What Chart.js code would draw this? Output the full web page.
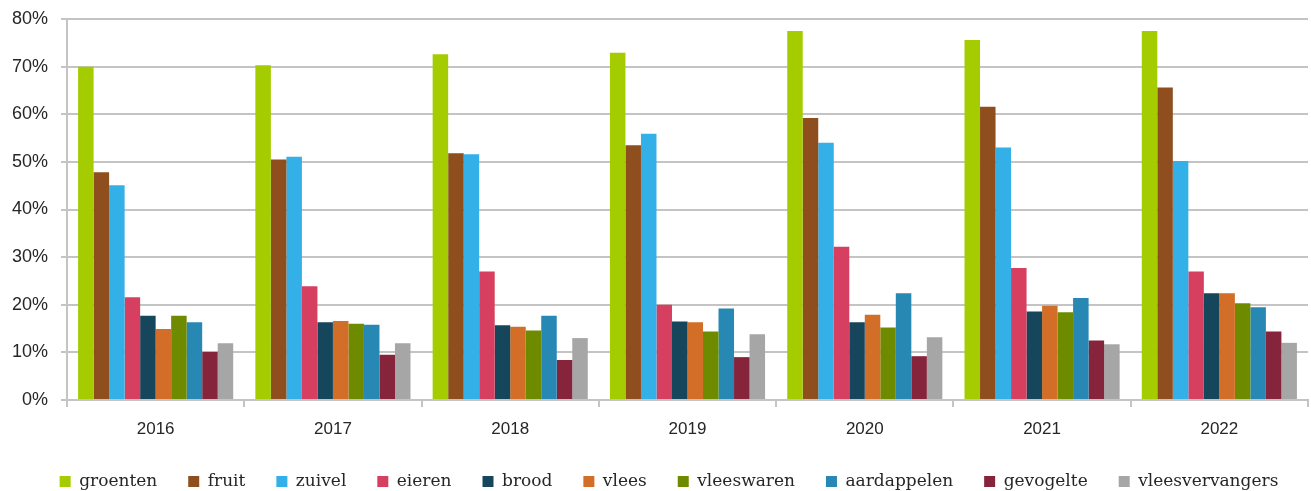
<!DOCTYPE html>
<html>
<head>
<meta charset="utf-8">
<script src="https://cdn.jsdelivr.net/npm/chart.js@4/dist/chart.umd.min.js"></script>
<style>
  html, body { margin: 0; padding: 0; background: #fff; }
  #wrap { width: 1311px; height: 491px; }
</style>
</head>
<body>
<div id="wrap"><canvas id="chart" width="1311" height="491"></canvas></div>
<script>
// jaren op de x-as
const years = ["2016", "2017", "2018", "2019", "2020", "2021", "2022"];

// percentages per productgroep
const groenten        = [70.0, 70.3, 72.6, 72.9, 77.5, 75.6, 77.5];
const fruit           = [47.8, 50.5, 51.8, 53.5, 59.2, 61.6, 65.6];
const zuivel          = [45.1, 51.1, 51.6, 55.9, 54.0, 53.0, 50.2];
const eieren          = [21.6, 23.9, 27.0, 20.0, 32.2, 27.7, 27.0];
const brood           = [17.7, 16.3, 15.7, 16.5, 16.3, 18.6, 22.4];
const vlees           = [14.9, 16.6, 15.4, 16.3, 17.9, 19.8, 22.4];
const vleeswaren      = [17.7, 16.0, 14.6, 14.4, 15.2, 18.4, 20.3];
const aardappelen     = [16.3, 15.8, 17.7, 19.2, 22.4, 21.4, 19.5];
const gevogelte       = [10.1,  9.5,  8.4,  9.0,  9.2, 12.5, 14.4];
const vleesvervangers = [11.9, 11.9, 13.0, 13.8, 13.2, 11.7, 12.0];

const yTicks = [0, 10, 20, 30, 40, 50, 60, 70, 80];

const series = [
    ["groenten", groenten, "#A5CC00"],
    ["fruit", fruit, "#8E4E1E"],
    ["zuivel", zuivel, "#33B0E8"],
    ["eieren", eieren, "#D63F5F"],
    ["brood", brood, "#16465C"],
    ["vlees", vlees, "#D26E27"],
    ["vleeswaren", vleeswaren, "#6E8B00"],
    ["aardappelen", aardappelen, "#2788B4"],
    ["gevogelte", gevogelte, "#85243B"],
    ["vleesvervangers", vleesvervangers, "#A6A6A6"]
];

const gridColor = "#C4C4C4";
const textColor = "#262626";

// legend a bit lower and a bit to the right, like the original
const legendTweak = {
    id: "legendTweak",
    beforeLayout(chart) {
        const lg = chart.legend;
        if (lg && !lg._tweaked) {
            const fit = lg.fit.bind(lg);
            lg.fit = function () { fit(); this.height = 49; };
            lg._tweaked = true;
        }
    },
    afterLayout(chart) {
        chart.legend.left += 15;
        chart.legend.right += 15;
    }
};

new Chart(document.getElementById("chart"), {
    type: "bar",
    data: {
        labels: years,
        datasets: series.map(s => ({
            label: s[0],
            data: s[1],
            backgroundColor: s[2],
            borderWidth: 0,
            categoryPercentage: 0.875,
            barPercentage: 1.0
        }))
    },
    plugins: [legendTweak],
    options: {
        responsive: false,
        animation: false,
        layout: { padding: { top: 19, right: 3, left: 0, bottom: 0 } },
        plugins: {
            tooltip: { enabled: false },
            legend: {
                position: "bottom",
                labels: {
                    boxWidth: 11,
                    boxHeight: 11,
                    padding: 31,
                    color: textColor,
                    font: { family: "'DejaVu Serif', 'Liberation Serif', serif", size: 17 }
                }
            }
        },
        scales: {
            x: {
                offset: true,
                grid: {
                    offset: true,
                    drawOnChartArea: false,
                    color: gridColor,
                    lineWidth: 2,
                    tickLength: 7
                },
                border: { color: gridColor, width: 2 },
                ticks: {
                    color: textColor,
                    font: { family: "'Liberation Sans', Arial, sans-serif", size: 17 },
                    padding: 12
                },
                afterFit: scale => { scale.height = 42; }
            },
            y: {
                min: 0,
                max: 80,
                afterBuildTicks: scale => { scale.ticks = yTicks.map(v => ({ value: v })); },
                grid: { color: gridColor, lineWidth: 2, tickLength: 6 },
                border: { color: gridColor, width: 2 },
                ticks: {
                    color: textColor,
                    font: { family: "'Liberation Sans', Arial, sans-serif", size: 18 },
                    padding: 13,
                    callback: v => v + "%"
                },
                afterFit: scale => {
                    scale.width = 67;
                    scale.paddingTop = 0;
                    scale.paddingBottom = 0;
                }
            }
        }
    }
});
</script>
</body>
</html>
